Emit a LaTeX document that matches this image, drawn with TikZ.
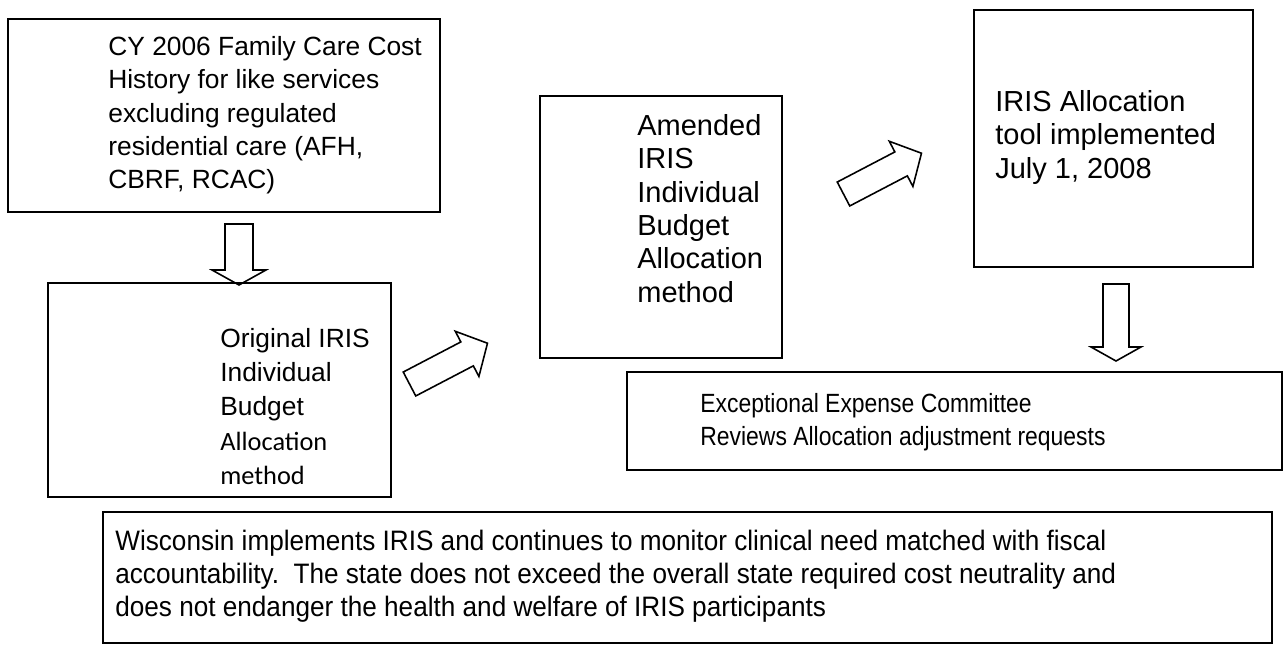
\documentclass[tikz,border=0pt]{standalone}
\usepackage{fontspec}
\setmainfont{Liberation Sans}
\newfontfamily\calibri{Carlito}
\newfontfamily\narrowsans{Liberation Sans}[FakeStretch=0.87]
\newfontfamily\widesans{Liberation Sans}[FakeStretch=0.93]
\usetikzlibrary{fit,positioning}

\tikzset{
  box/.style={draw, line width=1pt, inner sep=0pt},
  txt/.style={anchor=north west, align=left, inner sep=0pt,
    font=\fontsize{15}{19}\selectfont},
  bigtxt/.style={txt, font=\fontsize{16.5}{19}\selectfont},
  % hollow block arrow, drawn along +x from the middle of its tail
  pics/blockarrow/.style n args={4}{code={
    \draw[line width=0.9pt, line join=miter]
      (0,-#2/2) -- (#1,-#2/2) -- (#1,-#3/2) -- ({#1+#4},0)
      -- (#1,#3/2) -- (#1,#2/2) -- (0,#2/2) -- cycle;
  }},
}

\begin{document}
\begin{tikzpicture}[x=0.02cm, y=-0.02cm]
  \useasboundingbox (0,0) rectangle (1286,645);

  % boxes
  \node[box, fit={(8,19) (440,212)}] (costhist) {};
  \node[box, fit={(48,283) (391,497)}] (original) {};
  \node[box, fit={(540,96) (782,358)}] (amended) {};
  \node[box, fit={(974,10) (1253,267)}] (tool) {};
  \node[box, fit={(627,372) (1282,470)}] (committee) {};
  \node[box, fit={(103,512) (1272,643)}] (monitor) {};

  % texts
  \node[txt] (costtxt) at (108,36) {CY 2006 Family Care Cost\\History for like services\\excluding regulated\\residential care (AFH,\\CBRF, RCAC)};
  \node[txt, font=\fontsize{15}{19.5}\selectfont] (origtxt) at (220,328) {Original IRIS\\Individual\\Budget\\{\calibri Allocation}\\{\calibri method}};
  \node[bigtxt] (amendtxt) at (637,114) {Amended\\IRIS\\Individual\\Budget\\Allocation\\method};
  \node[bigtxt] (tooltxt) at (995,90) {IRIS Allocation\\tool implemented\\July 1, 2008};
  \node[txt, font=\narrowsans\fontsize{15}{19}\selectfont] (committxt) at (700,393) {Exceptional Expense Committee\\Reviews Allocation adjustment requests};
  \node[txt, font=\widesans\fontsize{16}{18.8}\selectfont] (monittxt) at (115,530) {Wisconsin implements IRIS and continues to monitor clinical need matched with fiscal\\accountability.\ \ The state does not exceed the overall state required cost neutrality and\\does not endanger the health and welfare of IRIS participants};

  % block arrows between the steps
  \pic[rotate=-90] at (239,224) {blockarrow={46}{28}{54}{15}};
  \pic[rotate=27.6] at (409.5,384) {blockarrow={65}{27}{51}{23}};
  \pic[rotate=27.6] at (843.5,194) {blockarrow={65}{27}{51}{23}};
  \pic[rotate=-90] at (1116,284) {blockarrow={63}{26}{50}{14}};
\end{tikzpicture}
\end{document}
